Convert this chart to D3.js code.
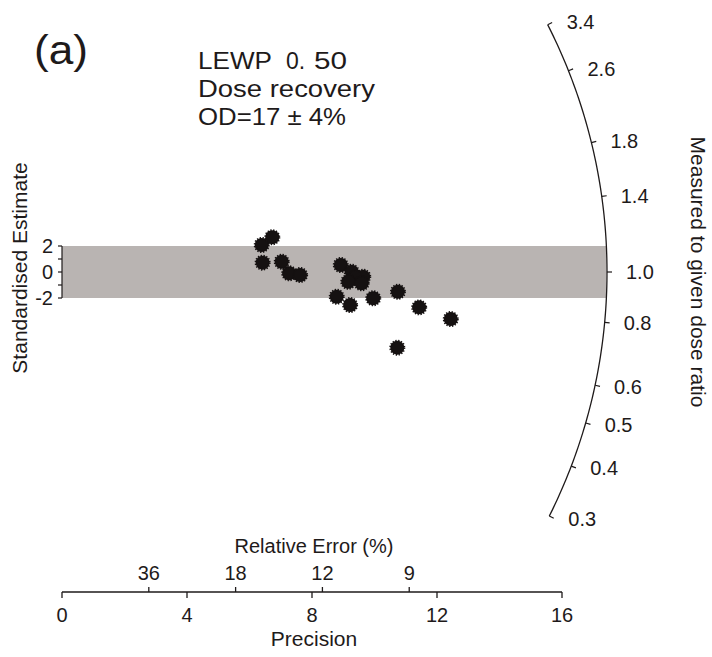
<!DOCTYPE html>
<html>
<head>
<meta charset="utf-8">
<script src="https://cdn.jsdelivr.net/npm/d3@7"></script>
<style>
  html, body { margin: 0; padding: 0; background: #fff; }
  svg { display: block; font-family: "Liberation Sans", Arial, sans-serif; }
</style>
</head>
<body>
<div id="chart"></div>
<script>
// precision (1/relative error) and standardised estimate of each aliquot
const precision = [6.39, 6.73, 6.42, 7.03, 7.27, 7.62, 8.92, 9.27, 9.64, 9.38, 9.16, 9.59, 8.79, 9.22, 9.96, 10.75, 11.43, 12.44, 10.73];
const zScore    = [2.08, 2.67, 0.72, 0.79, -0.10, -0.23, 0.54, 0.02, -0.36, -0.38, -0.75, -0.87, -1.90, -2.54, -2.02, -1.52, -2.72, -3.62, -5.82];

const precisionTicks = [0, 4, 8, 12, 16];
const relErrorTicks = [36, 18, 12, 9];
const zTicks = [-2, -1, 0, 1, 2];
const zLabels = [-2, 0, 2];
const ratioTicks = [0.3, 0.4, 0.5, 0.6, 0.8, 1.0, 1.4, 1.8, 2.6, 3.4];
const centralRatio = 1.0;

const width = 712, height = 657;
const ink = "#1e1a1a";

const svg = d3.select("#chart").append("svg")
  .attr("width", width)
  .attr("height", height);

const x = d3.scaleLinear().domain([0, 16]).range([62, 562]);
const y = d3.scaleLinear().domain([-2, 2]).range([298, 246]);

const ox = x(0), oy = y(0);
const R = 545;

// angle of the ray for a given ratio: slope in data units is ln(D/D0)
function rayAngle(d) {
  const s = Math.log(d / centralRatio);
  const dx = x(1) - x(0);
  const dy = y(s) - y(0);
  return Math.atan2(dy, dx);
}
function arcPoint(d, r) {
  const a = rayAngle(d);
  return [ox + r * Math.cos(a), oy + r * Math.sin(a)];
}

// +-2 band
const bandEnd = ox + Math.sqrt(R * R - (y(2) - oy) ** 2);
svg.append("rect")
  .attr("x", ox)
  .attr("y", y(2))
  .attr("width", bandEnd - ox)
  .attr("height", y(-2) - y(2))
  .attr("fill", "#b9b4b2");

// y axis (standardised estimate)
const yAxis = svg.append("g");
yAxis.append("line")
  .attr("x1", ox).attr("x2", ox)
  .attr("y1", y(-2)).attr("y2", y(2))
  .attr("stroke", ink).attr("stroke-width", 1.2);
yAxis.selectAll(".tick")
  .data(zTicks)
  .join("line")
  .attr("x1", ox - 4).attr("x2", ox)
  .attr("y1", (d) => y(d)).attr("y2", (d) => y(d))
  .attr("stroke", ink).attr("stroke-width", 1.2);
yAxis.selectAll("text")
  .data(zLabels)
  .join("text")
  .attr("x", ox - 9)
  .attr("y", (d) => y(d))
  .attr("dy", "0.36em")
  .attr("text-anchor", "end")
  .attr("font-size", 20)
  .attr("fill", ink)
  .text((d) => d);

svg.append("text")
  .attr("transform", `translate(27,${oy - 4}) rotate(-90)`)
  .attr("text-anchor", "middle")
  .attr("font-size", 21)
  .attr("fill", ink)
  .text("Standardised Estimate");

// radial ratio axis
const lnLo = d3.min(ratioTicks), lnHi = d3.max(ratioTicks);
const arcSteps = d3.range(0, 101).map((i) => lnLo * Math.pow(lnHi / lnLo, i / 100));
svg.append("path")
  .attr("d", d3.line()(arcSteps.map((d) => arcPoint(d, R))))
  .attr("fill", "none")
  .attr("stroke", ink)
  .attr("stroke-width", 1.3);

svg.append("g")
  .selectAll("line")
  .data(ratioTicks)
  .join("line")
  .attr("x1", (d) => arcPoint(d, R)[0])
  .attr("y1", (d) => arcPoint(d, R)[1])
  .attr("x2", (d) => arcPoint(d, R + 5)[0])
  .attr("y2", (d) => arcPoint(d, R + 5)[1])
  .attr("stroke", ink)
  .attr("stroke-width", 1.2);

svg.append("g")
  .selectAll("text")
  .data(ratioTicks)
  .join("text")
  .attr("x", (d) => arcPoint(d, R)[0] + 19)
  .attr("y", (d) => arcPoint(d, R)[1] + 6 * Math.sin(rayAngle(d)))
  .attr("dy", "0.36em")
  .attr("font-size", 20)
  .attr("fill", ink)
  .text((d) => d3.format(".1f")(d));

svg.append("text")
  .attr("transform", `translate(691,${oy}) rotate(90)`)
  .attr("text-anchor", "middle")
  .attr("font-size", 21)
  .attr("fill", ink)
  .text("Measured to given dose ratio");

// data points
const pts = precision.map((p, i) => ({ p: p, z: zScore[i] }));
svg.append("g")
  .selectAll("circle")
  .data(pts)
  .join("circle")
  .attr("cx", (d) => x(d.p))
  .attr("cy", (d) => y(d.z))
  .attr("r", 7)
  .attr("fill", "#151111")
  .attr("stroke", "#151111")
  .attr("stroke-width", 2)
  .attr("stroke-dasharray", "1.3,1.5");

// bottom axis: precision and relative error
const axisY = 592;
const bAxis = svg.append("g");
bAxis.append("line")
  .attr("x1", x(0)).attr("x2", x(16))
  .attr("y1", axisY).attr("y2", axisY)
  .attr("stroke", ink).attr("stroke-width", 1.3);
bAxis.selectAll(".ptick")
  .data(precisionTicks)
  .join("line")
  .attr("class", "ptick")
  .attr("x1", (d) => x(d)).attr("x2", (d) => x(d))
  .attr("y1", axisY).attr("y2", axisY + 6)
  .attr("stroke", ink).attr("stroke-width", 1.3);
bAxis.selectAll(".plabel")
  .data(precisionTicks)
  .join("text")
  .attr("class", "plabel")
  .attr("x", (d) => x(d))
  .attr("y", 622)
  .attr("text-anchor", "middle")
  .attr("font-size", 20)
  .attr("fill", ink)
  .text((d) => d);
bAxis.selectAll(".rtick")
  .data(relErrorTicks)
  .join("line")
  .attr("class", "rtick")
  .attr("x1", (d) => x(100 / d)).attr("x2", (d) => x(100 / d))
  .attr("y1", axisY - 5).attr("y2", axisY)
  .attr("stroke", ink).attr("stroke-width", 1.3);
bAxis.selectAll(".rlabel")
  .data(relErrorTicks)
  .join("text")
  .attr("class", "rlabel")
  .attr("x", (d) => x(100 / d))
  .attr("y", 580)
  .attr("text-anchor", "middle")
  .attr("font-size", 20)
  .attr("fill", ink)
  .text((d) => d);

svg.append("text")
  .attr("x", (x(0) + x(16)) / 2 + 2)
  .attr("y", 553)
  .attr("text-anchor", "middle")
  .attr("font-size", 20)
  .attr("fill", ink)
  .text("Relative Error (%)");
svg.append("text")
  .attr("x", (x(0) + x(16)) / 2 + 2)
  .attr("y", 646)
  .attr("text-anchor", "middle")
  .attr("font-size", 21)
  .attr("fill", ink)
  .text("Precision");

// panel label and notes
svg.append("text")
  .attr("x", 34).attr("y", 64)
  .attr("font-size", 41)
  .attr("textLength", 54)
  .attr("lengthAdjust", "spacingAndGlyphs")
  .attr("fill", ink)
  .text("(a)");

const note = svg.append("g").attr("font-size", 23).attr("fill", ink);
const l1 = note.append("text").attr("y", 69);
l1.append("tspan").attr("x", 198).attr("textLength", 74).attr("lengthAdjust", "spacingAndGlyphs").text("LEWP");
l1.append("tspan").attr("x", 286).text("0.");
l1.append("tspan").attr("x", 314).attr("textLength", 33).attr("lengthAdjust", "spacingAndGlyphs").text("50");
note.append("text").attr("x", 198).attr("y", 97)
  .attr("textLength", 177).attr("lengthAdjust", "spacingAndGlyphs")
  .text("Dose recovery");
note.append("text").attr("x", 198).attr("y", 125)
  .attr("textLength", 148).attr("lengthAdjust", "spacingAndGlyphs")
  .text("OD=17 \u00b1 4%");
</script>
</body>
</html>
